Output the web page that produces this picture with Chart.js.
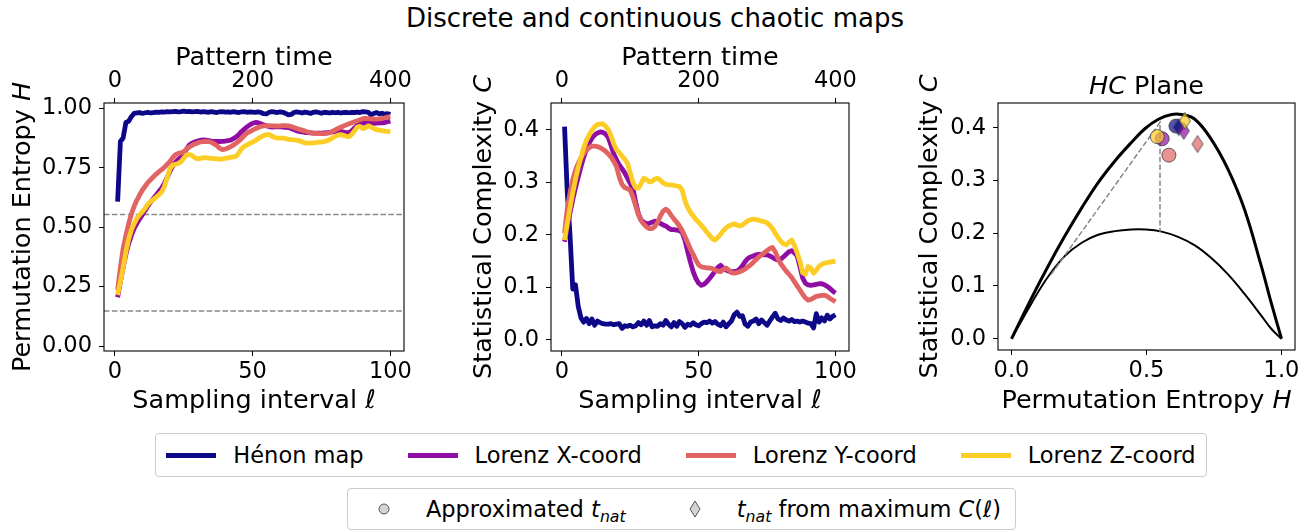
<!DOCTYPE html>
<html>
<head>
<meta charset="utf-8">
<script src="https://cdn.jsdelivr.net/npm/chart.js@4.4.1/dist/chart.umd.min.js"></script>
<style>
  body { margin: 0; background: #fff; font-family: "DejaVu Sans", sans-serif; color: #000; }
  #page { position: relative; width: 1310px; height: 531px; overflow: hidden; background: #fff; }
  .panel { position: absolute; }
  #title { position: absolute; left: 0; top: 5px; width: 1310px; text-align: center; font-size: 26px; line-height: 26px; }
  .legend { position: absolute; display: flex; align-items: center; justify-content: center; box-sizing: border-box;
            border: 1px solid #cccccc; border-radius: 4px; background: #fff; font-size: 22.5px; white-space: nowrap; }
  .item { display: flex; align-items: center; }
  .item + .item { margin-left: 44px; }
  #legend2 .item + .item { margin-left: 47px; }
  .line { width: 50px; height: 5px; margin-right: 17px; }
  .mark { width: 45px; height: 20px; margin-right: 19px; display: flex; align-items: center; justify-content: center; }
  .txt { display: inline-block; line-height: 26px; }
  sub { font-size: 70%; vertical-align: -0.3em; line-height: 0; }
</style>
</head>
<body>
<div id="page">
  <div id="title">Discrete and continuous chaotic maps</div>
  <div class="panel" style="left:0px;top:40px;"><canvas id="entropyChart" width="420" height="380"></canvas></div>
  <div class="panel" style="left:440px;top:40px;"><canvas id="complexityChart" width="430" height="380"></canvas></div>
  <div class="panel" style="left:880px;top:40px;"><canvas id="planeChart" width="430" height="380"></canvas></div>
  <div id="legend1" class="legend" style="left:155px;top:433px;width:1052px;height:44px;"></div>
  <div id="legend2" class="legend" style="left:347px;top:488px;width:669px;height:42px;">
    <span class="item"><span class="mark"><svg width="12" height="12"><circle cx="6" cy="6" r="5" fill="#d3d3d3" stroke="#555" stroke-width="1"/></svg></span><span class="txt">Approximated <i>t</i><sub><i>nat</i></sub></span></span>
    <span class="item"><span class="mark"><svg width="12" height="18"><polygon points="6,1 11,9 6,17 1,9" fill="#d3d3d3" stroke="#555" stroke-width="1"/></svg></span><span class="txt"><i>t</i><sub><i>nat</i></sub> from maximum <i>C</i>(<i>ℓ</i>)</span></span>
  </div>
</div>
<script>
// sampling interval ℓ
const ells = [1,2,3,4,5,6,7,8,9,10,11,12,13,14,15,16,17,18,19,20,
  21,22,23,24,25,26,27,28,29,30,31,32,33,34,35,36,37,38,39,40,
  41,42,43,44,45,46,47,48,49,50,51,52,53,54,55,56,57,58,59,60,
  61,62,63,64,65,66,67,68,69,70,71,72,73,74,75,76,77,78,79,80,
  81,82,83,84,85,86,87,88,89,90,91,92,93,94,95,96,97,98,99,100];
const patternPerEll = 4;

const seriesNames = ["Hénon map", "Lorenz X-coord", "Lorenz Y-coord", "Lorenz Z-coord"];
const seriesColors = ["#0d0887", "#8f0da4", "#e16462", "#fccd25"];

// permutation entropy H(ℓ)
const henonH = [0.607,0.86,0.875,0.94,0.945,0.965,0.978,0.98,
  0.982,0.978,0.981,0.983,0.980,0.982,0.984,0.983,0.985,0.984,0.986,0.985,
  0.986,0.987,0.985,0.986,0.988,0.986,0.987,0.985,0.986,0.987,
  0.984,0.986,0.985,0.983,0.986,0.984,0.982,0.985,0.986,0.984,
  0.985,0.983,0.986,0.984,0.982,0.985,0.986,0.983,0.985,0.984,
  0.983,0.985,0.982,0.977,0.976,0.983,0.986,0.984,0.982,0.985,
  0.983,0.978,0.972,0.974,0.982,0.985,0.983,0.980,0.984,0.982,
  0.978,0.983,0.985,0.982,0.979,0.983,0.982,0.980,0.983,0.981,
  0.983,0.980,0.982,0.983,0.981,0.983,0.982,0.984,0.982,0.986,
  0.985,0.983,0.972,0.978,0.982,0.976,0.979,0.975,0.977,0.974];
const lorenzXH = [0.205,0.27,0.33,0.385,0.43,0.465,0.495,0.516,0.535,0.552,
  0.57,0.59,0.605,0.62,0.635,0.65,0.665,0.685,0.71,0.735,
  0.757,0.772,0.785,0.795,0.808,0.828,0.845,0.853,0.858,0.862,
  0.865,0.867,0.866,0.864,0.862,0.86,0.86,0.86,0.861,0.862,
  0.864,0.866,0.872,0.879,0.89,0.902,0.912,0.922,0.93,0.937,
  0.94,0.939,0.935,0.93,0.926,0.923,0.921,0.922,0.923,0.922,
  0.921,0.92,0.919,0.915,0.91,0.905,0.902,0.9,0.898,0.897,
  0.896,0.895,0.895,0.895,0.895,0.896,0.897,0.898,0.9,0.902,
  0.904,0.903,0.9,0.897,0.897,0.905,0.918,0.928,0.934,0.937,
  0.938,0.937,0.936,0.936,0.937,0.938,0.939,0.94,0.943,0.946];
const lorenzYH = [0.235,0.33,0.41,0.465,0.515,0.555,0.588,0.614,0.636,0.656,
  0.672,0.688,0.700,0.712,0.723,0.733,0.742,0.752,0.764,0.776,
  0.792,0.805,0.81,0.812,0.817,0.828,0.837,0.844,0.85,0.854,
  0.858,0.86,0.861,0.86,0.857,0.85,0.843,0.832,0.826,0.828,
  0.833,0.838,0.845,0.853,0.862,0.873,0.886,0.896,0.902,0.908,
  0.914,0.919,0.923,0.926,0.927,0.927,0.926,0.926,0.925,0.926,
  0.927,0.927,0.926,0.923,0.919,0.915,0.911,0.908,0.904,0.9,
  0.897,0.895,0.894,0.893,0.893,0.893,0.894,0.897,0.903,0.909,
  0.915,0.92,0.925,0.93,0.935,0.939,0.943,0.947,0.952,0.956,
  0.957,0.956,0.955,0.954,0.954,0.955,0.957,0.96,0.963,0.965];
const lorenzZH = [0.215,0.27,0.33,0.395,0.45,0.488,0.515,0.537,0.552,0.565,
  0.58,0.597,0.608,0.616,0.626,0.636,0.648,0.672,0.71,0.745,
  0.76,0.764,0.768,0.775,0.79,0.803,0.806,0.801,0.792,0.787,
  0.789,0.791,0.792,0.79,0.789,0.788,0.787,0.786,0.787,0.789,
  0.791,0.793,0.795,0.798,0.812,0.83,0.84,0.846,0.852,0.858,
  0.864,0.872,0.879,0.885,0.889,0.889,0.883,0.877,0.874,0.874,
  0.874,0.872,0.869,0.868,0.867,0.866,0.863,0.858,0.854,0.853,
  0.853,0.854,0.855,0.857,0.858,0.86,0.863,0.868,0.875,0.882,
  0.887,0.889,0.886,0.882,0.881,0.89,0.905,0.921,0.924,0.914,
  0.918,0.926,0.921,0.914,0.91,0.908,0.906,0.904,0.903,0.902];

// statistical complexity C(ℓ)
const henonC = [0.406,0.28,0.2,0.097,0.105,0.064,0.042,0.034,0.041,0.031,
  0.04,0.028,0.036,0.033,0.031,0.03,0.03,0.031,0.029,0.03,
  0.031,0.022,0.027,0.026,0.028,0.025,0.027,0.033,0.029,0.036,
  0.028,0.037,0.025,0.027,0.026,0.031,0.028,0.037,0.03,0.025,
  0.033,0.026,0.035,0.031,0.024,0.03,0.028,0.033,0.029,0.027,
  0.031,0.034,0.033,0.036,0.032,0.035,0.03,0.027,0.034,0.025,
  0.031,0.036,0.048,0.053,0.045,0.046,0.03,0.026,0.034,0.036,
  0.04,0.031,0.038,0.033,0.028,0.036,0.044,0.051,0.04,0.037,
  0.042,0.038,0.036,0.039,0.035,0.036,0.034,0.036,0.034,0.032,
  0.031,0.023,0.05,0.034,0.042,0.036,0.047,0.04,0.045,0.048];
const lorenzXC = [0.187,0.215,0.242,0.267,0.29,0.31,0.33,0.348,0.362,0.375,
  0.384,0.39,0.394,0.396,0.395,0.392,0.385,0.37,0.354,0.343,
  0.333,0.326,0.318,0.308,0.298,0.288,0.262,0.24,0.228,0.224,
  0.221,0.222,0.224,0.226,0.225,0.222,0.219,0.217,0.213,0.21,
  0.21,0.209,0.208,0.204,0.19,0.168,0.148,0.13,0.117,0.108,
  0.104,0.106,0.111,0.117,0.124,0.131,0.138,0.142,0.137,0.133,
  0.131,0.13,0.13,0.131,0.135,0.141,0.149,0.155,0.158,0.16,
  0.162,0.163,0.163,0.162,0.162,0.16,0.157,0.154,0.152,0.154,
  0.158,0.163,0.168,0.17,0.166,0.16,0.14,0.118,0.108,0.105,
  0.104,0.105,0.106,0.107,0.107,0.105,0.102,0.098,0.093,0.089];
const lorenzYC = [0.203,0.25,0.28,0.305,0.323,0.336,0.347,0.355,0.361,0.366,
  0.369,0.369,0.368,0.366,0.363,0.359,0.354,0.348,0.34,0.33,
  0.31,0.296,0.29,0.288,0.285,0.272,0.255,0.238,0.227,0.22,
  0.215,0.212,0.212,0.216,0.224,0.236,0.245,0.249,0.245,0.237,
  0.23,0.224,0.217,0.208,0.197,0.185,0.173,0.163,0.152,0.143,
  0.139,0.138,0.137,0.137,0.136,0.133,0.131,0.13,0.134,0.137,
  0.133,0.128,0.127,0.128,0.13,0.132,0.135,0.139,0.143,0.148,
  0.153,0.158,0.162,0.166,0.17,0.174,0.176,0.168,0.155,0.145,
  0.138,0.131,0.125,0.119,0.111,0.103,0.095,0.087,0.08,0.076,
  0.077,0.08,0.083,0.084,0.085,0.085,0.083,0.079,0.076,0.073];
const lorenzZC = [0.19,0.222,0.252,0.28,0.306,0.328,0.347,0.366,0.38,0.39,
  0.399,0.406,0.41,0.411,0.411,0.407,0.4,0.388,0.373,0.362,
  0.357,0.35,0.344,0.336,0.318,0.3,0.29,0.289,0.298,0.308,
  0.305,0.301,0.302,0.306,0.308,0.304,0.299,0.296,0.295,0.295,
  0.294,0.293,0.292,0.285,0.265,0.252,0.243,0.236,0.229,0.224,
  0.218,0.212,0.205,0.199,0.193,0.19,0.195,0.201,0.208,0.213,
  0.217,0.219,0.221,0.219,0.217,0.219,0.223,0.227,0.229,0.23,
  0.229,0.228,0.226,0.225,0.223,0.218,0.212,0.203,0.195,0.188,
  0.183,0.181,0.186,0.19,0.18,0.166,0.15,0.128,0.125,0.14,
  0.137,0.127,0.133,0.14,0.144,0.146,0.147,0.148,0.149,0.15];

// reference entropy levels (dashed)
const hLevels = [0.553, 0.147];

// HC plane boundaries
const upperH = [0,0.075,0.136,0.198,0.26,0.321,0.383,0.444,0.494,0.544,0.593,0.63,0.679,0.74,0.802,0.863,0.925,0.962,1.0];
const upperC = [0,0.078,0.138,0.195,0.248,0.296,0.337,0.372,0.398,0.416,0.425,0.425,0.416,0.378,0.321,0.245,0.138,0.068,0];
const lowerH = [0,0.075,0.136,0.198,0.26,0.321,0.383,0.444,0.494,0.556,0.617,0.679,0.74,0.802,0.863,0.925,0.962,1.0];
const lowerC = [0,0.068,0.118,0.157,0.182,0.197,0.204,0.207,0.207,0.203,0.193,0.177,0.153,0.122,0.085,0.044,0.019,0];
const guideH = [0.147, 0.55, 0.55];
const guideC = [0.122, 0.41, 0.203];

// natural time points in the HC plane (order: Hénon, X, Y, Z)
const approxH = [0.609, 0.558, 0.583, 0.54];
const approxC = [0.403, 0.379, 0.348, 0.383];
const maxCH = [0.619, 0.638, 0.689, 0.642];
const maxCC = [0.401, 0.394, 0.369, 0.413];

const ellTicks = [0, 50, 100];
const patternTicks = [0, 200, 400];
const entropyTicks = [0, 0.25, 0.5, 0.75, 1.0];
const complexityTicks = [0, 0.1, 0.2, 0.3, 0.4];
const planeTicks = [0, 0.5, 1.0];

const ellMin = -3.95, ellMax = 104.95;

Chart.defaults.font.family = "DejaVu Sans";
Chart.defaults.color = "#000";

const tickFont = { family: "DejaVu Sans", size: 22.5 };
const labelSize = 25.5;

function axis(o) {
  return {
    type: "linear",
    position: o.position,
    min: o.min,
    max: o.max,
    afterBuildTicks: (s) => { s.ticks = o.ticks.map((v) => ({ value: v })); },
    afterFit: (s) => {
      if (s.isHorizontal()) s.height = o.size; else s.width = o.size;
    },
    ticks: { autoSkip: false, maxRotation: 0, padding: o.pad, color: "#000", font: tickFont,
             callback: (v) => o.fmt(v) },
    grid: { display: true, drawOnChartArea: false, drawTicks: true, tickLength: 5, color: "#000", lineWidth: 1 },
    border: { display: false },
    title: { display: false }
  };
}

const frame = {
  id: "frame",
  afterDraw(chart) {
    const { ctx, chartArea: a } = chart;
    ctx.save();
    ctx.strokeStyle = "#000";
    ctx.lineWidth = 1.1;
    ctx.strokeRect(a.left, a.top, a.right - a.left, a.bottom - a.top);
    ctx.restore();
  }
};

// axis titles with mixed upright/italic parts
function labels(items) {
  return {
    id: "labels",
    afterDraw(chart) {
      const { ctx, chartArea: a } = chart;
      items.forEach((it) => {
        const fontOf = (p) => (p[1] ? "italic " : "") + labelSize + 'px "DejaVu Sans"';
        ctx.save();
        ctx.fillStyle = "#000";
        ctx.textBaseline = "alphabetic";
        ctx.textAlign = "left";
        let total = 0;
        it.parts.forEach((p) => { ctx.font = fontOf(p); total += ctx.measureText(p[0]).width; });
        ctx.translate(it.x(a), it.y(a));
        if (it.rot) ctx.rotate(it.rot);
        let x = -total / 2;
        it.parts.forEach((p) => { ctx.font = fontOf(p); ctx.fillText(p[0], x, 0); x += ctx.measureText(p[0]).width; });
        ctx.restore();
      });
    }
  };
}

const midX = (a) => (a.left + a.right) / 2;
const midY = (a) => (a.top + a.bottom) / 2;

function seriesSets(ys) {
  return ys.map((arr, k) => ({
    label: seriesNames[k],
    data: ells.map((l, i) => ({ x: l, y: arr[i] })),
    showLine: true,
    borderColor: seriesColors[k],
    backgroundColor: seriesColors[k],
    borderWidth: 4.8,
    borderJoinStyle: "round",
    pointRadius: 0,
    order: 3 - k
  }));
}

const baseOptions = {
  responsive: false,
  animation: false,
  events: [],
  plugins: { legend: { display: false }, tooltip: { enabled: false } }
};

// panel 1: permutation entropy
new Chart(document.getElementById("entropyChart"), {
  type: "scatter",
  data: {
    datasets: seriesSets([henonH, lorenzXH, lorenzYH, lorenzZH]).concat(
      hLevels.map((lv) => ({
        data: [{ x: ellMin, y: lv }, { x: ellMax, y: lv }],
        showLine: true, borderColor: "#888", borderWidth: 1.5, borderDash: [5.5, 2.4],
        pointRadius: 0, order: 10
      })))
  },
  options: Object.assign({}, baseOptions, {
    layout: { padding: { left: 0, right: 16, top: 0, bottom: 0 } },
    scales: {
      x: axis({ position: "bottom", min: ellMin, max: ellMax, ticks: ellTicks, size: 69, pad: 3, fmt: (v) => String(v) }),
      x2: axis({ position: "top", min: ellMin * patternPerEll, max: ellMax * patternPerEll, ticks: patternTicks, size: 63, pad: 3, fmt: (v) => String(v) }),
      y: axis({ position: "left", min: -0.021, max: 1.022, ticks: entropyTicks, size: 104, pad: 7, fmt: (v) => v.toFixed(2) })
    }
  }),
  plugins: [frame, labels([
    { parts: [["Pattern time", false]], x: midX, y: (a) => a.top - 38 },
    { parts: [["Sampling interval ", false], ["ℓ", true]], x: midX, y: (a) => a.bottom + 57 },
    { parts: [["Permutation Entropy ", false], ["H", true]], x: (a) => a.left - 74, y: midY, rot: -Math.PI / 2 }
  ])]
});

// panel 2: statistical complexity
new Chart(document.getElementById("complexityChart"), {
  type: "scatter",
  data: { datasets: seriesSets([henonC, lorenzXC, lorenzYC, lorenzZC]) },
  options: Object.assign({}, baseOptions, {
    layout: { padding: { left: 0, right: 21, top: 0, bottom: 0 } },
    scales: {
      x: axis({ position: "bottom", min: ellMin, max: ellMax, ticks: ellTicks, size: 69, pad: 3, fmt: (v) => String(v) }),
      x2: axis({ position: "top", min: ellMin * patternPerEll, max: ellMax * patternPerEll, ticks: patternTicks, size: 63, pad: 3, fmt: (v) => String(v) }),
      y: axis({ position: "left", min: -0.021, max: 0.451, ticks: complexityTicks, size: 111, pad: 7, fmt: (v) => v.toFixed(1) })
    }
  }),
  plugins: [frame, labels([
    { parts: [["Pattern time", false]], x: midX, y: (a) => a.top - 38 },
    { parts: [["Sampling interval ", false], ["ℓ", true]], x: midX, y: (a) => a.bottom + 57 },
    { parts: [["Statistical Complexity ", false], ["C", true]], x: (a) => a.left - 60, y: midY, rot: -Math.PI / 2 }
  ])]
});

// panel 3: HC plane
function diamond(color) {
  const c = document.createElement("canvas");
  c.width = 14; c.height = 20;
  const g = c.getContext("2d");
  g.beginPath();
  g.moveTo(7, 1.5); g.lineTo(12.5, 10); g.lineTo(7, 18.5); g.lineTo(1.5, 10); g.closePath();
  g.globalAlpha = 0.7; g.fillStyle = color; g.fill();
  g.globalAlpha = 0.8; g.strokeStyle = "#444"; g.lineWidth = 1; g.stroke();
  return c;
}
const alpha = (hex, a) => {
  const n = parseInt(hex.slice(1), 16);
  return "rgba(" + (n >> 16) + "," + ((n >> 8) & 255) + "," + (n & 255) + "," + a + ")";
};

new Chart(document.getElementById("planeChart"), {
  type: "scatter",
  data: {
    datasets: [
      { data: upperH.map((h, i) => ({ x: h, y: upperC[i] })), showLine: true, borderColor: "#000", borderWidth: 3,
        tension: 0.4, borderJoinStyle: "round", pointRadius: 0, order: 20 },
      { data: lowerH.map((h, i) => ({ x: h, y: lowerC[i] })), showLine: true, borderColor: "#000", borderWidth: 2,
        tension: 0.4, borderJoinStyle: "round", pointRadius: 0, order: 19 },
      { data: guideH.map((h, i) => ({ x: h, y: guideC[i] })), showLine: true, borderColor: "#888", borderWidth: 1.5,
        borderDash: [5.5, 2.4], pointRadius: 0, order: 18 },
      { data: approxH.map((h, i) => ({ x: h, y: approxC[i] })), showLine: false, pointStyle: "circle", pointRadius: 7,
        backgroundColor: seriesColors.map((c) => alpha(c, 0.7)), borderColor: "rgba(60,60,60,0.8)", borderWidth: 1, order: 2 },
      { data: maxCH.map((h, i) => ({ x: h, y: maxCC[i] })), showLine: false, pointStyle: seriesColors.map(diamond),
        pointRadius: 7, order: 1 }
    ]
  },
  options: Object.assign({}, baseOptions, {
    layout: { padding: { left: 0, right: 15, top: 63, bottom: 0 } },
    scales: {
      x: axis({ position: "bottom", min: -0.05, max: 1.05, ticks: planeTicks, size: 70, pad: 3, fmt: (v) => v.toFixed(1) }),
      y: axis({ position: "left", min: -0.0213, max: 0.4468, ticks: complexityTicks, size: 118, pad: 7, fmt: (v) => v.toFixed(1) })
    }
  }),
  plugins: [frame, labels([
    { parts: [["HC", true], [" Plane", false]], x: midX, y: (a) => a.top - 9 },
    { parts: [["Permutation Entropy ", false], ["H", true]], x: midX, y: (a) => a.bottom + 58 },
    { parts: [["Statistical Complexity ", false], ["C", true]], x: (a) => a.left - 61, y: midY, rot: -Math.PI / 2 }
  ])]
});

// line legend
const legend1 = document.getElementById("legend1");
seriesNames.forEach((name, k) => {
  const item = document.createElement("span");
  item.className = "item";
  const line = document.createElement("span");
  line.className = "line";
  line.style.background = seriesColors[k];
  item.appendChild(line);
  const txt = document.createElement("span");
  txt.className = "txt";
  txt.textContent = name;
  item.appendChild(txt);
  legend1.appendChild(item);
});
</script>
</body>
</html>
